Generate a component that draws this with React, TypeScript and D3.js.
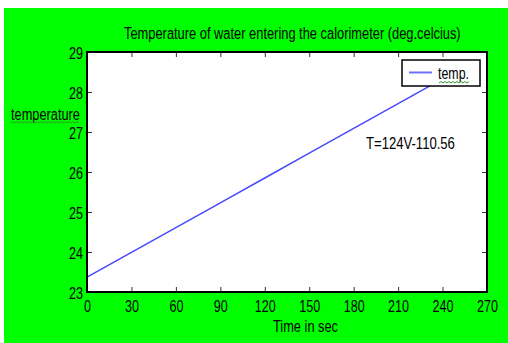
import * as d3 from 'd3';
import { useEffect, useRef } from 'react';

// readings
const times = [0, 30, 60, 90, 120, 150, 180, 210, 240];
const temps = [23.37, 23.99, 24.61, 25.23, 25.85, 26.47, 27.09, 27.71, 28.33];
const xTicks = [0, 30, 60, 90, 120, 150, 180, 210, 240, 270];
const yTicks = [23, 24, 25, 26, 27, 28, 29];

const title = 'Temperature of water entering the calorimeter (deg.celcius)';
const xLabel = 'Time in sec';
const yLabel = 'temperature';
const seriesName = 'temp.';
const note = 'T=124V-110.56';

const FONT = '"Liberation Sans", Arial, sans-serif';
const FS = 17;
const SX = 0.74; // narrow look of the original fonts

// green spell-check squiggle
const squiggle = (x0: number, x1: number, y: number) => {
    let d = `M${x0},${y}`;
    let up = true;
    for (let x = x0 + 2; x <= x1; x += 2) {
        d += ` L${x},${up ? y - 1.5 : y}`;
        up = !up;
    }
    return d;
};

export default function App() {
    const ref = useRef<SVGSVGElement>(null);

    useEffect(() => {
        document.body.style.margin = '0';
        if (!ref.current) return;

        const W = 508;
        const H = 343;
        const margin = { top: 52, right: 21, bottom: 51, left: 87 };
        const width = W - margin.left - margin.right;
        const height = H - margin.top - margin.bottom;

        const svg = d3.select(ref.current);
        svg.selectAll('*').remove();

        svg.append('rect')
            .attr('x', 4).attr('y', 8)
            .attr('width', W - 4).attr('height', H - 8)
            .attr('fill', '#00ff00');

        const x = d3.scaleLinear().domain([0, 270]).range([0, width]);
        const y = d3.scaleLinear().domain([23, 29]).range([height, 0]);

        const g = svg.append('g').attr('transform', `translate(${margin.left},${margin.top})`);

        g.append('rect')
            .attr('width', width).attr('height', height)
            .attr('fill', '#fff');

        const line = d3.line<number>()
            .x((d, i) => x(times[i]))
            .y(d => y(d));

        g.append('path')
            .datum(temps)
            .attr('d', line)
            .attr('fill', 'none')
            .attr('stroke', '#4848ff')
            .attr('stroke-width', 1.5);

        const styleTicks = (sel: d3.Selection<SVGGElement, unknown, null, undefined>) => {
            sel.select('.domain').remove();
            sel.selectAll('.tick line').attr('stroke', '#333').attr('stroke-width', 1);
        };

        // bottom + top
        g.append('g')
            .attr('transform', `translate(0,${height})`)
            .call(d3.axisBottom(x).tickValues(xTicks).tickSizeInner(-5).tickSizeOuter(0).tickFormat(d3.format('d')))
            .call(styleTicks)
            .call(s => s.selectAll('.tick text')
                .attr('y', 0).attr('dy', 0)
                .attr('transform', `translate(0,20) scale(${SX},1)`)
                .attr('fill', '#000')
                .attr('font-size', FS)
                .attr('font-family', FONT));

        g.append('g')
            .call(d3.axisTop(x).tickValues(xTicks).tickSizeInner(-5).tickSizeOuter(0).tickFormat(() => ''))
            .call(styleTicks);

        // left + right
        g.append('g')
            .call(d3.axisLeft(y).tickValues(yTicks).tickSizeInner(-5).tickSizeOuter(0).tickFormat(d3.format('d')))
            .call(styleTicks)
            .call(s => s.selectAll('.tick text')
                .attr('x', 0).attr('dy', 0)
                .attr('transform', `translate(-4,6) scale(${SX},1)`)
                .attr('text-anchor', 'end')
                .attr('fill', '#000')
                .attr('font-size', FS)
                .attr('font-family', FONT));

        g.append('g')
            .attr('transform', `translate(${width},0)`)
            .call(d3.axisRight(y).tickValues(yTicks).tickSizeInner(-5).tickSizeOuter(0).tickFormat(() => ''))
            .call(styleTicks);

        g.append('rect')
            .attr('width', width).attr('height', height)
            .attr('fill', 'none')
            .attr('stroke', '#000')
            .attr('stroke-width', 2);

        // fitted text: squeezed horizontally to the width seen in the original
        const fit = (parent: d3.Selection<any, unknown, null, undefined>, tx: string, xx: number, yy: number, len: number) => {
            const t = parent.append('text')
                .attr('font-size', FS)
                .attr('font-family', FONT)
                .attr('fill', '#000')
                .text(tx);
            const w = (t.node() as SVGTextElement).getComputedTextLength() || len;
            t.attr('transform', `translate(${xx},${yy}) scale(${len / w},1)`);
            return t;
        };

        // legend
        const lg = g.append('g').attr('transform', `translate(${width - 85},8)`);
        lg.append('rect')
            .attr('width', 78).attr('height', 26)
            .attr('fill', '#fff')
            .attr('stroke', '#000')
            .attr('stroke-width', 1.5);
        lg.append('line')
            .attr('x1', 7).attr('x2', 30)
            .attr('y1', 12.5).attr('y2', 12.5)
            .attr('stroke', '#7070ff')
            .attr('stroke-width', 2);
        fit(lg, seriesName, 36, 19, 31);
        lg.append('path')
            .attr('d', squiggle(37, 67, 23))
            .attr('fill', 'none')
            .attr('stroke', '#2a9a2a')
            .attr('stroke-width', 1);

        // texts
        fit(svg, title, 124, 39, 337);
        fit(svg, xLabel, 273, 332, 65);
        fit(svg, yLabel, 11, 120, 69);
        fit(svg, note, 366, 149, 89);

        svg.append('path')
            .attr('d', squiggle(11, 80, 123))
            .attr('fill', 'none')
            .attr('stroke', '#2a9a2a')
            .attr('stroke-width', 1);
    }, []);

    return <svg ref={ref} width={508} height={343} style={{ display: 'block' }} />;
}
